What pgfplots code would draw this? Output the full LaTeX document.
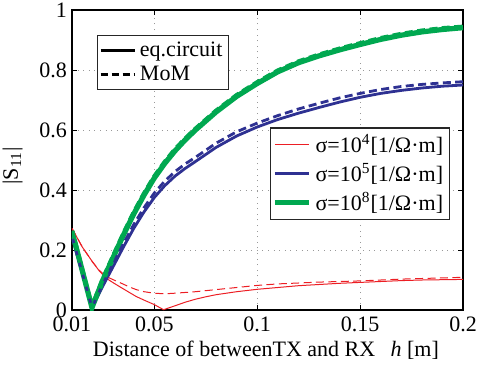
\documentclass[border=0pt]{standalone}
\usepackage{fontspec}
\setmainfont{Liberation Serif}
\usepackage{pgfplots}
\usepackage{pgfplotstable}
\pgfplotsset{compat=1.18}
\definecolor{cred}{RGB}{236,30,36}
\definecolor{cblue}{RGB}{46,49,146}
\definecolor{cgreen}{RGB}{0,168,80}
\newcommand{\fs}{\fontsize{11}{13}\selectfont}

\pgfplotstableread{
h s
0.010 0.262
0.0197 0.008
0.025 0.100
0.030 0.175
0.035 0.250
0.040 0.320
0.045 0.383
0.050 0.440
0.055 0.488
0.060 0.530
0.065 0.567
0.070 0.600
0.080 0.660
0.090 0.712
0.100 0.755
0.110 0.794
0.120 0.824
0.130 0.847
0.140 0.867
0.150 0.885
0.160 0.902
0.170 0.916
0.180 0.927
0.190 0.935
0.200 0.941
}\greensolid

\pgfplotstableread{
h s
0.010 0.264
0.0197 0.010
0.025 0.104
0.030 0.180
0.035 0.255
0.040 0.325
0.045 0.388
0.050 0.445
0.055 0.493
0.060 0.535
0.065 0.571
0.070 0.604
0.080 0.664
0.090 0.716
0.100 0.759
0.110 0.798
0.120 0.828
0.130 0.851
0.140 0.871
0.150 0.889
0.160 0.906
0.170 0.920
0.180 0.931
0.190 0.939
0.200 0.944
}\greendash

\pgfplotstableread{
h s
0.010 0.245
0.0197 0.008
0.025 0.080
0.030 0.145
0.035 0.210
0.040 0.272
0.045 0.327
0.050 0.375
0.055 0.414
0.060 0.446
0.065 0.472
0.070 0.495
0.080 0.542
0.090 0.580
0.100 0.610
0.110 0.635
0.120 0.656
0.130 0.675
0.140 0.693
0.150 0.709
0.160 0.722
0.170 0.732
0.180 0.740
0.190 0.746
0.200 0.750
}\bluesolid

\pgfplotstableread{
h s
0.010 0.245
0.0197 0.008
0.025 0.086
0.030 0.154
0.035 0.221
0.040 0.285
0.045 0.341
0.050 0.390
0.055 0.429
0.060 0.461
0.065 0.487
0.070 0.509
0.080 0.556
0.090 0.594
0.100 0.623
0.110 0.648
0.120 0.670
0.130 0.689
0.140 0.707
0.150 0.722
0.160 0.735
0.170 0.745
0.180 0.752
0.190 0.757
0.200 0.761
}\bluedash

\pgfplotstableread{
h s
0.010 0.272
0.015 0.210
0.020 0.160
0.0233 0.130
0.0266 0.106
0.030 0.091
0.0331 0.078
0.0375 0.060
0.0412 0.045
0.045 0.033
0.050 0.018
0.0545 0.001
0.060 0.014
0.065 0.026
0.070 0.036
0.075 0.044
0.080 0.051
0.090 0.061
0.100 0.069
0.110 0.075
0.120 0.081
0.130 0.085
0.140 0.089
0.150 0.092
0.160 0.095
0.170 0.098
0.180 0.100
0.190 0.101
0.200 0.102
}\redsolid

\pgfplotstableread{
h s
0.010 0.272
0.015 0.210
0.020 0.160
0.0233 0.132
0.0266 0.112
0.030 0.101
0.0331 0.092
0.0375 0.078
0.0412 0.068
0.045 0.061
0.050 0.056
0.055 0.054
0.060 0.056
0.070 0.061
0.080 0.068
0.090 0.075
0.100 0.082
0.110 0.087
0.120 0.090
0.130 0.093
0.140 0.095
0.150 0.097
0.160 0.100
0.170 0.103
0.180 0.105
0.190 0.107
0.200 0.109
}\reddash

\begin{document}
\begin{tikzpicture}
\begin{axis}[
  scale only axis, width=195.5pt, height=150pt,
  xmin=0.01, xmax=0.2, ymin=0, ymax=1,
  xtick={0.01,0.05,0.1,0.15,0.2},
  xticklabels={0.01,0.05,0.1,0.15,0.2},
  ytick={0,0.2,0.4,0.6,0.8,1},
  yticklabels={0,0.2,0.4,0.6,0.8,1},
  tick align=inside, major tick length=2.5pt,
  tick style={black, line width=0.5pt},
  axis line style={black, line width=1pt},
  grid=major,
  major grid style={gray!80, line width=0.5pt, dash pattern=on 0.5pt off 2.3pt},
  font=\fs, tick label style={font=\fs}, label style={font=\fs},
  yticklabel style={xshift=1pt},
  xlabel={Distance of betweenTX and RX\hspace{0.45em} \textit{h} [m]},
  ylabel={|S\textsubscript{11}|},
  ylabel style={at={(axis description cs:-0.152,0.48)}, anchor=center},
  xlabel style={at={(axis description cs:0.496,-0.133)}, anchor=center},
  legend style={font=\fs, at={(axis description cs:0.966,0.30)}, anchor=south east,
    draw=black!85, line width=0.6pt, fill=white, inner sep=1pt,
    row sep=0pt, cells={anchor=west}},
  legend cell align=left,
]
\addplot[cred, line width=0.5pt] table[x=h,y=s] {\redsolid};
\addlegendentry{σ=10\textsuperscript{4}[1/Ω·m]}
\addplot[cblue, line width=1.4pt] table[x=h,y=s] {\bluesolid};
\addlegendentry{σ=10\textsuperscript{5}[1/Ω·m]}
\addplot[cgreen, line width=2.6pt] table[x=h,y=s] {\greensolid};
\addlegendentry{σ=10\textsuperscript{8}[1/Ω·m]}
\addplot[cred, line width=0.5pt, dash pattern=on 4pt off 2.2pt, forget plot] table[x=h,y=s] {\reddash};
\addplot[cblue, line width=1.4pt, dash pattern=on 4pt off 2.2pt, forget plot] table[x=h,y=s] {\bluedash};
\addplot[cgreen, line width=2.2pt, dash pattern=on 4pt off 2.2pt, forget plot] table[x=h,y=s] {\greendash};
\end{axis}
\begin{axis}[
  scale only axis, width=195.5pt, height=150pt,
  xmin=0.01, xmax=0.2, ymin=0, ymax=1,
  hide axis,
  legend style={font=\fs, at={(axis description cs:0.063,0.917)}, anchor=north west,
    draw=black!85, line width=0.6pt, fill=white, inner sep=1pt,
    row sep=-0.5pt, cells={anchor=west}},
  legend cell align=left,
]
\addlegendimage{black, line width=1.3pt}
\addlegendentry{eq.circuit}
\addlegendimage{black, line width=1.3pt, dash pattern=on 3.5pt off 2pt}
\addlegendentry{MoM}
\end{axis}
\pgfresetboundingbox
\path (-36pt,-27.5pt) rectangle (207pt,155pt);
\end{tikzpicture}
\end{document}
